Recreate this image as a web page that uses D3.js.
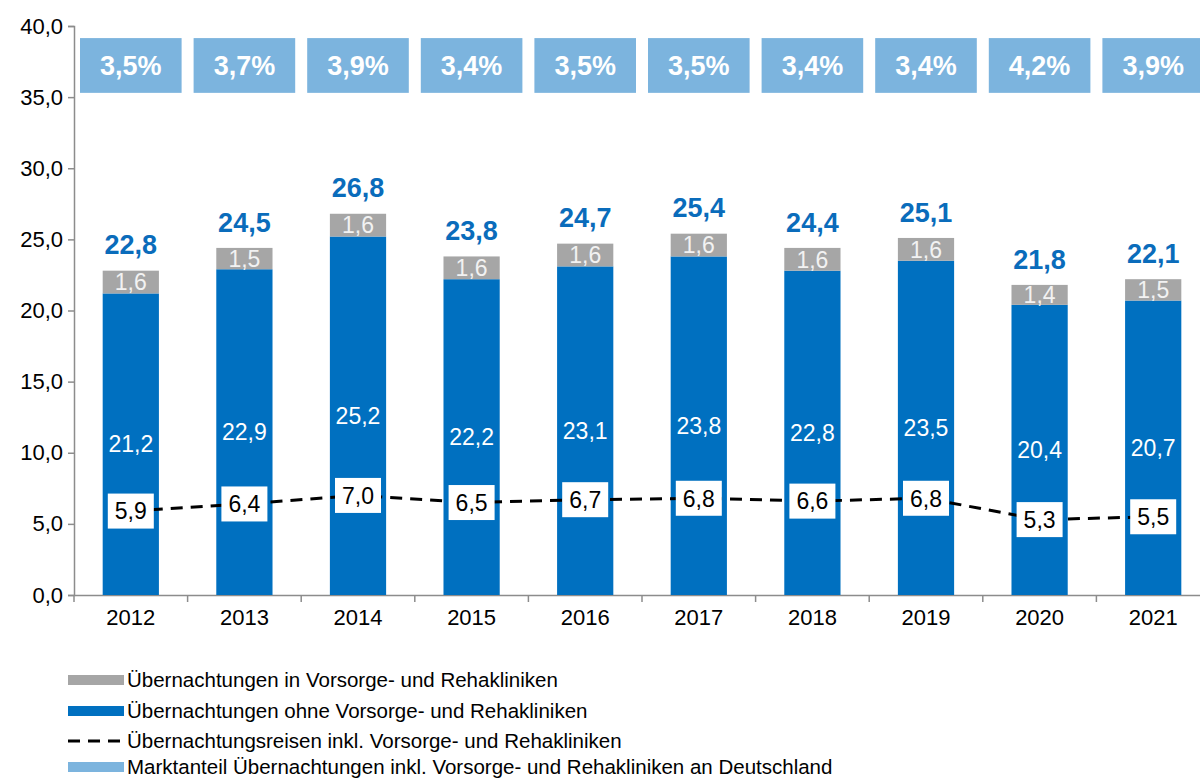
<!DOCTYPE html>
<html>
<head>
<meta charset="utf-8">
<script src="https://cdn.jsdelivr.net/npm/d3@7"></script>
<style>
  body { margin: 0; background: #fff; }
  svg { font-family: "Liberation Sans", Arial, sans-serif; display: block; }
</style>
</head>
<body>
<div id="chart"></div>
<script>
const years = ["2012", "2013", "2014", "2015", "2016", "2017", "2018", "2019", "2020", "2021"];
const ohneReha = [21.2, 22.9, 25.2, 22.2, 23.1, 23.8, 22.8, 23.5, 20.4, 20.7];
const inReha = [1.6, 1.5, 1.6, 1.6, 1.6, 1.6, 1.6, 1.6, 1.4, 1.5];
const totals = [22.8, 24.5, 26.8, 23.8, 24.7, 25.4, 24.4, 25.1, 21.8, 22.1];
const reisen = [5.9, 6.4, 7.0, 6.5, 6.7, 6.8, 6.6, 6.8, 5.3, 5.5];
const marktanteil = [3.5, 3.7, 3.9, 3.4, 3.5, 3.5, 3.4, 3.4, 4.2, 3.9];
const yTicks = [0, 5, 10, 15, 20, 25, 30, 35, 40];
const legendItems = [
    { label: "Übernachtungen in Vorsorge- und Rehakliniken", type: "rect", color: "#a6a6a6" },
    { label: "Übernachtungen ohne Vorsorge- und Rehakliniken", type: "rect", color: "#0070c0" },
    { label: "Übernachtungsreisen inkl. Vorsorge- und Rehakliniken", type: "dash", color: "#000" },
    { label: "Marktanteil Übernachtungen inkl. Vorsorge- und Rehakliniken an Deutschland", type: "rect", color: "#7cb4de" }
];

const fmt = v => v.toFixed(1).replace(".", ",");

const width = 1200, height = 780;
const plotLeft = 74, plotBottom = 595, plotTop = 26;

const svg = d3.select("#chart")
    .append("svg")
    .attr("width", width)
    .attr("height", height);

const x = d3.scaleBand()
    .domain(years)
    .range([plotLeft, plotLeft + 113.6 * years.length])
    .padding(0);

const y = d3.scaleLinear()
    .domain([0, 40])
    .range([plotBottom, plotTop]);

const barW = x.bandwidth() * 0.495;
const cx = d => x(d) + x.bandwidth() / 2;

const data = years.map((year, i) => ({
    year,
    ohne: ohneReha[i],
    reha: inReha[i],
    total: totals[i],
    reisen: reisen[i],
    share: marktanteil[i]
}));

// y axis
const yAxis = svg.append("g")
    .attr("transform", `translate(${plotLeft},0)`)
    .call(d3.axisLeft(y).tickValues(yTicks).tickSize(6).tickPadding(5).tickFormat(fmt));
yAxis.select(".domain").attr("stroke", "#8c8c8c").attr("stroke-width", 1.5);
yAxis.selectAll(".tick line").attr("stroke", "#8c8c8c").attr("stroke-width", 1.5);
yAxis.selectAll(".tick text")
    .style("font-size", "22px")
    .attr("fill", "#000");

// x axis
const xAxis = svg.append("g")
    .attr("transform", `translate(0,${plotBottom})`)
    .call(d3.axisBottom(x).tickSize(0).tickPadding(14));
xAxis.select(".domain").attr("stroke", "#8c8c8c").attr("stroke-width", 1.5);
xAxis.selectAll(".tick text")
    .style("font-size", "22px")
    .attr("fill", "#000");
xAxis.selectAll(".edge")
    .data(years)
    .enter()
    .append("line")
    .attr("x1", d => x(d))
    .attr("x2", d => x(d))
    .attr("y1", 0)
    .attr("y2", 7)
    .attr("stroke", "#8c8c8c")
    .attr("stroke-width", 1.5);

// market share boxes
const shareG = svg.append("g");
shareG.selectAll("rect")
    .data(data)
    .enter()
    .append("rect")
    .attr("x", d => x(d.year) + 6)
    .attr("y", y(39.15))
    .attr("width", x.bandwidth() - 12)
    .attr("height", y(35.3) - y(39.15))
    .attr("fill", "#7cb4de");
shareG.selectAll("text")
    .data(data)
    .enter()
    .append("text")
    .attr("x", d => cx(d.year))
    .attr("y", (y(39.15) + y(35.3)) / 2)
    .attr("dy", "0.36em")
    .attr("text-anchor", "middle")
    .attr("fill", "#fff")
    .style("font-size", "27px")
    .style("font-weight", "bold")
    .text(d => fmt(d.share) + "%");

// stacked bars
svg.selectAll(".bar-ohne")
    .data(data)
    .enter()
    .append("rect")
    .attr("class", "bar-ohne")
    .attr("x", d => cx(d.year) - barW / 2)
    .attr("y", d => y(d.ohne))
    .attr("width", barW)
    .attr("height", d => y(0) - y(d.ohne))
    .attr("fill", "#0070c0");

svg.selectAll(".bar-reha")
    .data(data)
    .enter()
    .append("rect")
    .attr("class", "bar-reha")
    .attr("x", d => cx(d.year) - barW / 2)
    .attr("y", d => y(d.ohne + d.reha))
    .attr("width", barW)
    .attr("height", d => y(d.ohne) - y(d.ohne + d.reha))
    .attr("fill", "#a6a6a6");

svg.selectAll(".lbl-ohne")
    .data(data)
    .enter()
    .append("text")
    .attr("class", "lbl-ohne")
    .attr("x", d => cx(d.year))
    .attr("y", d => y(d.ohne / 2))
    .attr("dy", "0.36em")
    .attr("text-anchor", "middle")
    .attr("fill", "#fff")
    .style("font-size", "23px")
    .text(d => fmt(d.ohne));

svg.selectAll(".lbl-reha")
    .data(data)
    .enter()
    .append("text")
    .attr("class", "lbl-reha")
    .attr("x", d => cx(d.year))
    .attr("y", d => y(d.ohne + d.reha / 2))
    .attr("dy", "0.36em")
    .attr("text-anchor", "middle")
    .attr("fill", "#f2f2f2")
    .style("font-size", "23px")
    .text(d => fmt(d.reha));

svg.selectAll(".lbl-total")
    .data(data)
    .enter()
    .append("text")
    .attr("class", "lbl-total")
    .attr("x", d => cx(d.year))
    .attr("y", d => y(d.ohne + d.reha) - 26)
    .attr("dy", "0.36em")
    .attr("text-anchor", "middle")
    .attr("fill", "#0a6cbb")
    .style("font-size", "27px")
    .style("font-weight", "bold")
    .text(d => fmt(d.total));

// dashed line
const line = d3.line()
    .x(d => cx(d.year))
    .y(d => y(d.reisen));

svg.append("path")
    .datum(data)
    .attr("d", line)
    .attr("fill", "none")
    .attr("stroke", "#000")
    .attr("stroke-width", 3)
    .attr("stroke-dasharray", "12,8");

const boxW = 46, boxH = 35;
svg.selectAll(".box-reisen")
    .data(data)
    .enter()
    .append("rect")
    .attr("class", "box-reisen")
    .attr("x", d => cx(d.year) - boxW / 2)
    .attr("y", d => y(d.reisen) - boxH / 2)
    .attr("width", boxW)
    .attr("height", boxH)
    .attr("fill", "#fff");

svg.selectAll(".lbl-reisen")
    .data(data)
    .enter()
    .append("text")
    .attr("class", "lbl-reisen")
    .attr("x", d => cx(d.year))
    .attr("y", d => y(d.reisen))
    .attr("dy", "0.36em")
    .attr("text-anchor", "middle")
    .attr("fill", "#000")
    .style("font-size", "23px")
    .text(d => fmt(d.reisen));

// legend
const legend = svg.append("g");
const rowY = [680, 711, 741, 767];
legendItems.forEach((item, i) => {
    const g = legend.append("g").attr("transform", `translate(68,${rowY[i]})`);
    if (item.type === "rect") {
        g.append("rect")
            .attr("x", 0)
            .attr("y", -5)
            .attr("width", 56)
            .attr("height", 10)
            .attr("fill", item.color);
    } else {
        g.append("line")
            .attr("x1", 0)
            .attr("x2", 56)
            .attr("y1", 0)
            .attr("y2", 0)
            .attr("stroke", item.color)
            .attr("stroke-width", 3)
            .attr("stroke-dasharray", "12,8");
    }
    g.append("text")
        .attr("x", 59)
        .attr("y", 0)
        .attr("dy", "0.36em")
        .attr("fill", "#000")
        .style("font-size", "20.5px")
        .text(item.label);
});
</script>
</body>
</html>
